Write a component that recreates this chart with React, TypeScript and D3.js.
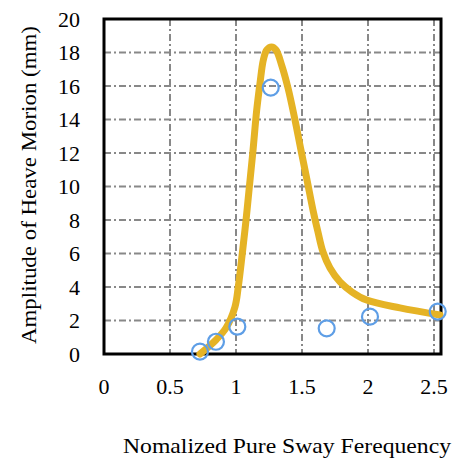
import React from "react";
import * as d3 from "d3";

const xTicks = [0, 0.5, 1, 1.5, 2, 2.5];
const xTickLabels = ["0", "0.5", "1", "1.5", "2", "2.5"];
const yTicks = [0, 2, 4, 6, 8, 10, 12, 14, 16, 18, 20];

const measuredX = [0.727, 0.848, 1.01, 1.263, 1.687, 2.015, 2.528];
const measuredY = [0.14, 0.73, 1.63, 15.9, 1.53, 2.23, 2.53];

const curveX = [0.727, 0.848, 0.924, 0.992, 1.017, 1.048, 1.076, 1.101, 1.127, 1.157, 1.182, 1.207, 1.233, 1.269, 1.303, 1.348, 1.394, 1.447, 1.492, 1.538, 1.583, 1.621, 1.659, 1.712, 1.788, 1.879, 1.99, 2.242, 2.545];
const curveY = [0, 0.84, 1.55, 2.81, 4.0, 6.03, 8.0, 9.97, 12.0, 14.57, 16.18, 17.55, 18.15, 18.33, 18.15, 17.19, 15.88, 13.97, 12.18, 10.39, 8.6, 7.28, 6.09, 5.13, 4.3, 3.7, 3.22, 2.75, 2.33];

const W = 456;
const H = 459;
const left = 104;
const right = 441;
const top = 19;
const bottom = 354;

const ts = { fontFamily: '"Liberation Serif"' };

export default function App() {
  const x = d3.scaleLinear().domain([0, 2.553]).range([left, right]);
  const y = d3.scaleLinear().domain([0, 20]).range([bottom, top]);
  const line = d3
    .line<number>()
    .x((_, i) => x(curveX[i]))
    .y((_, i) => y(curveY[i]))
    .curve(d3.curveCatmullRom.alpha(0.5));
  const dash = "7,3,2,3";
  return (
    <svg width={W} height={H} style={{ position: "absolute", left: 0, top: 0, background: "#fff" }}>
      <rect x={0} y={0} width={W} height={H} fill="#fff" />
      {yTicks.slice(1, -1).map((t) => (
        <line key={"hy" + t} x1={left} x2={right} y1={y(t)} y2={y(t)} stroke="#888" strokeWidth={2} strokeDasharray={dash} />
      ))}
      {xTicks.slice(1).map((t) => (
        <line key={"vx" + t} x1={x(t)} x2={x(t)} y1={top} y2={bottom} stroke="#888" strokeWidth={2} strokeDasharray={dash} />
      ))}
      <rect x={left} y={top} width={right - left} height={bottom - top} fill="none" stroke="#000" strokeWidth={3} />
      <path d={line(curveX) || ""} fill="none" stroke="#E5B325" strokeWidth={7} strokeLinecap="round" strokeLinejoin="round" />
      {measuredX.map((v, i) => (
        <circle key={"m" + i} cx={x(v)} cy={y(measuredY[i])} r={8} fill="none" stroke="#5E9EE6" strokeWidth={2.2} />
      ))}
      {yTicks.map((t) => (
        <text key={"yl" + t} x={80} y={y(t) + 7.5} textAnchor="end" fontSize={22} fill="#000" style={ts}>
          {t}
        </text>
      ))}
      {xTicks.map((t, i) => (
        <text key={"xl" + t} x={x(t)} y={394} textAnchor="middle" fontSize={22} fill="#000" style={ts}>
          {xTickLabels[i]}
        </text>
      ))}
      <text x={287} y={453} textAnchor="middle" fontSize={22} fill="#000" style={ts} textLength={328} lengthAdjust="spacingAndGlyphs">
        Nomalized Pure Sway Ferequency
      </text>
      <text transform={`translate(36,185) rotate(-90)`} textAnchor="middle" fontSize={22} fill="#000" style={ts} textLength={318} lengthAdjust="spacingAndGlyphs">
        Amplitude of Heave Morion (mm)
      </text>
    </svg>
  );
}
